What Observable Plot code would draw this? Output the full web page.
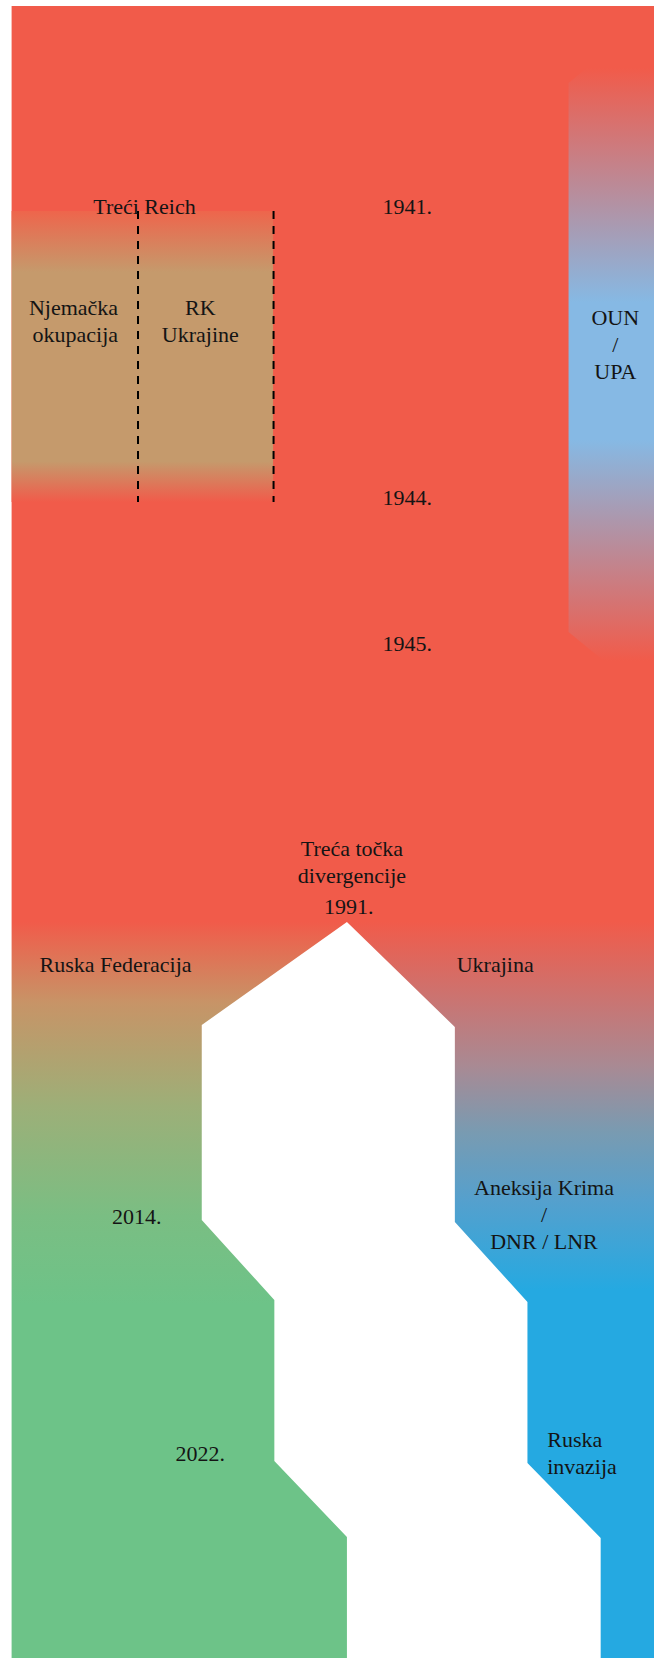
<!DOCTYPE html>
<html>
<head>
<meta charset="utf-8">
<script src="https://cdn.jsdelivr.net/npm/d3@7"></script>
<script src="https://cdn.jsdelivr.net/npm/@observablehq/plot@0.6"></script>
<style>
  html, body { margin: 0; padding: 0; background: #ffffff; overflow: hidden; }
  #chart svg { display: block; }
  #chart svg text { font-family: "Liberation Serif", "Times New Roman", "DejaVu Serif", serif; }
</style>
</head>
<body>
<div id="chart"></div>
<script>
// ---------------- DATA ----------------
// Vertical axis: timeline coordinate (0 = top of the flow), horizontal: share of the width (0–100).
const sovietSpan = [0, 91.6];                 // SSSR flow, until the 1991 split
const reichSpan = [20.5, 49.6];               // Treći Reich period (1941–1944)
const reichExtent = [0, 40.7];                // share of the territory under occupation
const reichDividers = [19.6, 40.7];           // dashed borders (Njemačka okupacija | RK Ukrajine)
const ounT = [0.7, 7.7, 62.6, 69.6];          // OUN / UPA branch
const ounLeft = [100, 86.7, 86.7, 100];
const rusT = [91.6, 101.9, 121.4, 129.4, 145.5, 153.1, 165.2];   // Ruska Federacija
const rusRight = [52.2, 29.6, 29.6, 40.9, 40.9, 52.2, 52.2];
const ukrT = [91.6, 102.1, 121.6, 129.6, 145.7, 153.2, 165.2];   // Ukrajina
const ukrLeft = [52.2, 69.0, 69.0, 80.3, 80.3, 91.7, 91.7];

const centerLabels = ["Treći Reich", "1941.", "RK\nUkrajine", "OUN\n/\nUPA", "1944.", "1945.",
  "Treća točka\ndivergencije", "1991.", "Ruska Federacija", "Ukrajina", "2014.",
  "Aneksija Krima\n/\nDNR / LNR", "2022."];
const centerX = [20.6, 61.5, 29.3, 93.9, 61.5, 61.5, 52.9, 52.4, 16.1, 75.2, 19.4, 82.8, 29.3];
const centerY = [19.9, 19.9, 31.35, 33.7, 49.0, 63.6, 85.45, 89.9, 95.7, 95.7, 120.9, 120.7, 144.6];
const endLabels = ["Njemačka\nokupacija"];
const endX = [16.5];
const endY = [31.35];
const startLabels = ["Ruska\ninvazija"];
const startX = [83.3];
const startY = [144.55];

// ---------------- COLOURS ----------------
const RED = "#f15b4a", TAN = "#c59a6c", LIGHTBLUE = "#86b9e4", GREEN = "#6dc388", BLUE = "#25a9e1";

function gradients() {
  const ns = "http://www.w3.org/2000/svg";
  const defs = document.createElementNS(ns, "defs");
  const add = (id, stops) => {
    const g = document.createElementNS(ns, "linearGradient");
    g.setAttribute("id", id);
    g.setAttribute("x1", "0"); g.setAttribute("y1", "0");
    g.setAttribute("x2", "0"); g.setAttribute("y2", "1");
    for (const [o, c] of stops) {
      const s = document.createElementNS(ns, "stop");
      s.setAttribute("offset", o);
      s.setAttribute("stop-color", c);
      g.appendChild(s);
    }
    defs.appendChild(g);
  };
  add("gTan", [[0, "#ee654c"], [0.21, TAN], [0.86, TAN], [1, RED]]);
  add("gOun", [[0, RED], [0.08, RED], [0.42, LIGHTBLUE], [0.62, LIGHTBLUE], [0.94, RED], [1, RED]]);
  add("gRus", [[0, RED], [0.11, "#c79467"], [0.25, "#9daf78"], [0.40, "#7abe83"], [0.52, GREEN], [1, GREEN]]);
  add("gUkr", [[0, RED], [0.197, "#a88a94"], [0.287, "#789bb2"], [0.378, "#55a0cd"], [0.5, BLUE], [1, BLUE]]);
  return defs;
}

const pts = (ts, a, b) => ts.map((t, i) => ({t, x1: typeof a === "number" ? a : a[i], x2: typeof b === "number" ? b : b[i]}));
const lbl = (texts, xs, ys) => texts.map((text, i) => ({text, x: xs[i], y: ys[i]}));

const textStyle = {fontSize: 22, fontFamily: "Liberation Serif", fill: "#141414", lineHeight: 1.23};

const chart = Plot.plot({
  width: 654,
  height: 1658,
  marginLeft: 11.6,
  marginRight: 0,
  marginTop: 6,
  marginBottom: 0,
  x: {domain: [0, 100], axis: null},
  y: {domain: [0, 165.2], reverse: true, axis: null},
  style: {background: "#ffffff", overflow: "visible"},
  marks: [
    gradients,
    Plot.rect([{}], {x1: 0, x2: 100, y1: sovietSpan[0], y2: sovietSpan[1], fill: RED}),
    Plot.rect([{}], {x1: reichExtent[0], x2: reichExtent[1], y1: reichSpan[0], y2: reichSpan[1], fill: "url(#gTan)"}),
    Plot.areaX(pts(ounT, ounLeft, 100), {y: "t", x1: "x1", x2: "x2", fill: "url(#gOun)"}),
    Plot.areaX(pts(rusT, 0, rusRight), {y: "t", x1: "x1", x2: "x2", fill: "url(#gRus)"}),
    Plot.areaX(pts(ukrT, ukrLeft, 100), {y: "t", x1: "x1", x2: "x2", fill: "url(#gUkr)"}),
    Plot.ruleX(reichDividers, {y1: reichSpan[0], y2: reichSpan[1], stroke: "#000", strokeWidth: 2, strokeDasharray: "8,7"}),
    Plot.text(lbl(centerLabels, centerX, centerY), {x: "x", y: "y", text: "text", textAnchor: "middle", ...textStyle}),
    Plot.text(lbl(endLabels, endX, endY), {x: "x", y: "y", text: "text", textAnchor: "end", ...textStyle}),
    Plot.text(lbl(startLabels, startX, startY), {x: "x", y: "y", text: "text", textAnchor: "start", ...textStyle})
  ]
});
document.getElementById("chart").appendChild(chart);
</script>
</body>
</html>
